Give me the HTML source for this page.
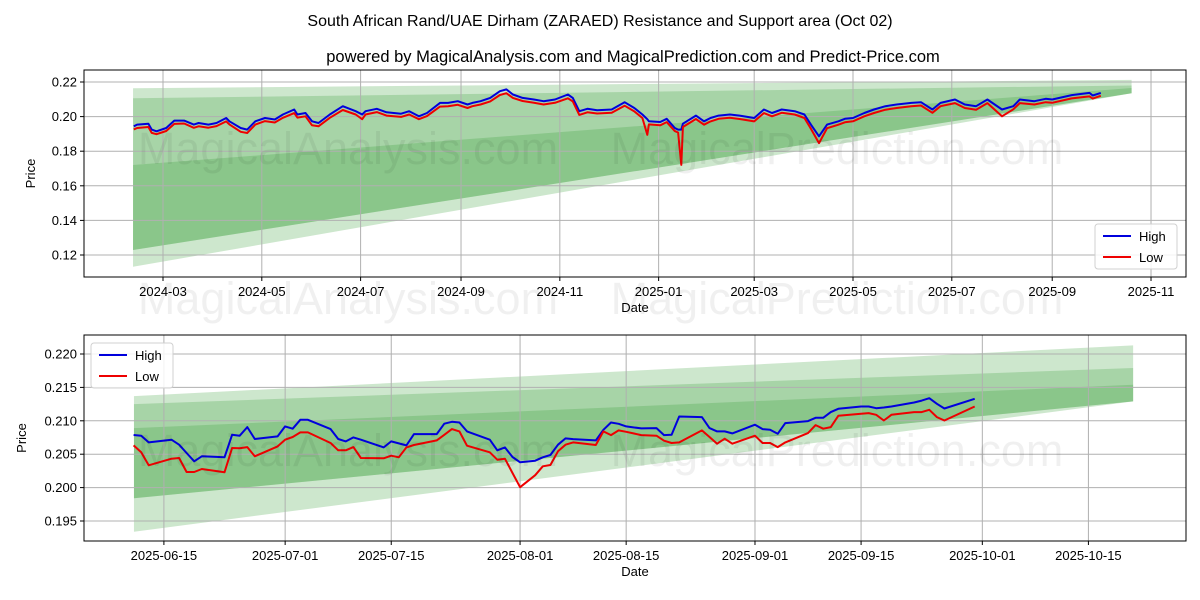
<!DOCTYPE html>
<html><head><meta charset="utf-8"><title>ZARAED Resistance and Support</title>
<style>
html,body{margin:0;padding:0;background:#fff;}
svg{display:block;font-family:"Liberation Sans","DejaVu Sans",sans-serif;}
</style></head>
<body>
<svg id="chart" width="1200" height="600" viewBox="0 0 1200 600" xmlns="http://www.w3.org/2000/svg">
<rect width="1200" height="600" fill="#fff"/>
<text x="600" y="26" text-anchor="middle" font-size="16">South African Rand/UAE Dirham (ZARAED) Resistance and Support area (Oct 02)</text>
<text x="633" y="62" text-anchor="middle" font-size="16.5">powered by MagicalAnalysis.com and MagicalPrediction.com and Predict-Price.com</text>
<g id="top"></g>
<g id="bot"></g>
<g font-size="45" fill="#000" fill-opacity="0.06" text-anchor="middle">
<text x="348" y="164">MagicalAnalysis.com</text>
<text x="837" y="164">MagicalPrediction.com</text>
<text x="348" y="314">MagicalAnalysis.com</text>
<text x="837" y="314">MagicalPrediction.com</text>
<text x="348" y="466">MagicalAnalysis.com</text>
<text x="837" y="466">MagicalPrediction.com</text>
</g>
</svg>
<script>
// ===== Top chart data (day offsets from 2024-03-01) =====
const topDays = [-18,-16,-9,-7,-4,2,7,13,19,22,28,33,39,41,48,52,57,63,69,74,81,83,88,92,96,103,111,119,123,125,132,138,147,152,158,163,171,176,182,188,191,196,202,208,212,216,222,229,235,242,250,253,257,262,268,277,285,291,296,299,300,307,311,316,318,320,321,329,334,338,343,350,356,365,371,376,382,390,396,400,405,410,417,421,426,433,439,446,453,462,468,475,480,489,495,502,509,518,525,529,538,545,549,561,572,574,579];
const topHigh = [.1944,.1954,.1959,.1925,.1915,.1934,.1977,.1977,.1954,.1963,.1954,.1963,.1992,.1973,.1934,.1925,.1973,.1992,.1983,.2012,.2041,.2012,.2021,.1973,.1963,.2012,.2060,.2031,.2012,.2031,.2045,.2025,.2017,.2031,.2002,.2021,.2079,.2079,.2089,.2070,.2079,.2089,.2108,.2147,.2157,.2128,.2108,.2099,.2089,.2099,.2128,.2108,.2031,.2045,.2037,.2041,.2083,.2050,.2012,.1985,.1973,.1969,.1987,.1934,.1925,.1925,.1959,.2006,.1973,.1992,.2006,.2012,.2006,.1992,.2041,.2021,.2041,.2031,.2012,.1954,.1886,.1954,.1973,.1987,.1992,.2021,.2041,.2060,.2070,.2079,.2083,.2041,.2079,.2099,.2070,.2060,.2099,.2041,.2060,.2099,.2089,.2103,.2099,.2124,.2137,.2122,.2137];
const topLow = [.1926,.1934,.1940,.1906,.1898,.1917,.1958,.1960,.1935,.1944,.1936,.1945,.1972,.1955,.1912,.1905,.1954,.1974,.1966,.1993,.2020,.1994,.2002,.1950,.1944,.1993,.2038,.2012,.1985,.2012,.2026,.2006,.1998,.2012,.1985,.2003,.2058,.2060,.2068,.2050,.2060,.2070,.2088,.2125,.2135,.2108,.2090,.2080,.2070,.2080,.2106,.2088,.2010,.2025,.2018,.2022,.2063,.2030,.1992,.1895,.1955,.1950,.1968,.1916,.1908,.1721,.1940,.1986,.1953,.1972,.1987,.1993,.1986,.1972,.2020,.2002,.2022,.2012,.1992,.1930,.1847,.1933,.1953,.1967,.1973,.2002,.2021,.2040,.2050,.2060,.2064,.2022,.2060,.2078,.2050,.2040,.2078,.2002,.2042,.2078,.2070,.2083,.2080,.2105,.2117,.2104,.2120];
const topBandDays = [-18.5, 598];
const topBandTopStart = [0.2164, 0.2106, 0.1720];
const topBandTopEnd = [0.2212, 0.2180, 0.2165];
const topBandBotStart = [0.1132, 0.1229, 0.1229];
const topBandBotEnd = [0.2135, 0.2135, 0.2135];
const topYTicks = [0.12, 0.14, 0.16, 0.18, 0.20, 0.22];
const topYLabels = ["0.12","0.14","0.16","0.18","0.20","0.22"];
const topXTicks = [0, 61, 122, 184, 245, 306, 365, 426, 487, 549, 610];
const topXLabels = ["2024-03","2024-05","2024-07","2024-09","2024-11","2025-01","2025-03","2025-05","2025-07","2025-09","2025-11"];

// ===== Bottom chart data (day offsets from 2025-06-15) =====
const botDays = [-4,-3,-2,1,2,3,4,5,8,9,10,11,12,15,16,17,18,19,22,23,24,25,26,29,30,31,32,33,36,37,38,39,40,43,44,45,46,47,49,50,51,52,53,54,57,58,59,60,61,63,65,66,67,68,71,72,73,74,75,78,79,80,81,82,85,86,87,88,89,92,93,94,95,96,99,100,101,102,103,107];
const botHigh = [.20787,.20777,.20677,.20717,.20642,.20518,.20394,.20468,.20453,.20791,.20777,.20906,.20727,.20767,.20916,.20881,.21015,.21015,.20876,.20727,.20692,.20752,.20717,.20602,.20692,.20662,.20632,.20801,.20801,.20956,.20985,.20975,.20841,.20717,.20558,.20602,.20458,.20379,.20403,.20453,.20488,.20642,.20736,.20726,.20707,.20866,.20975,.20955,.20916,.20886,.20891,.20786,.20791,.21065,.21055,.20891,.20841,.20841,.20811,.20941,.20876,.20866,.20806,.20966,.20995,.21045,.21045,.21130,.21179,.21214,.21214,.21189,.21199,.21214,.21274,.21303,.21339,.21254,.21184,.21329];
const botLow = [.20632,.20528,.20334,.20433,.20443,.20234,.20234,.20279,.20229,.20593,.20588,.20607,.20468,.20617,.20717,.20757,.20826,.20826,.20667,.20558,.20558,.20607,.20443,.20438,.20478,.20453,.20602,.20637,.20707,.20791,.20876,.20841,.20627,.20528,.20418,.20433,.20219,.20006,.20185,.20319,.20339,.20543,.20642,.20677,.20637,.20841,.20786,.20856,.20836,.20786,.20777,.20702,.20667,.20677,.20856,.20757,.20657,.20732,.20657,.20777,.20667,.20667,.20607,.20677,.20816,.20936,.20881,.20906,.21075,.21105,.21115,.21090,.21005,.21090,.21130,.21130,.21164,.21055,.21005,.21214];
const botBandDays = [-3.95, 127.9];
const botBandTopStart = [0.2137, 0.2125, 0.2089];
const botBandTopEnd = [0.2213, 0.2179, 0.2154];
const botBandBotStart = [0.1934, 0.1984, 0.1984];
const botBandBotEnd = [0.2129, 0.2129, 0.2129];
const botYTicks = [0.195, 0.200, 0.205, 0.210, 0.215, 0.220];
const botYLabels = ["0.195","0.200","0.205","0.210","0.215","0.220"];
const botXTicks = [0, 16, 30, 47, 61, 78, 92, 108, 122];
const botXLabels = ["2025-06-15","2025-07-01","2025-07-15","2025-08-01","2025-08-15","2025-09-01","2025-09-15","2025-10-01","2025-10-15"];

const NS = "http://www.w3.org/2000/svg";
function mk(tag, attrs, parent){
  const e = document.createElementNS(NS, tag);
  for (const k in attrs) e.setAttribute(k, attrs[k]);
  parent.appendChild(e);
  return e;
}

function drawPanel(g, cfg){
  const L=84, R=1186, T=cfg.T, B=cfg.B;
  const xs = d => cfg.x0 + d*cfg.kx;
  const ys = v => cfg.y0 + (cfg.v0 - v)*cfg.ky;
  const clip = mk('clipPath', {id: cfg.id+'-clip'}, g);
  mk('rect', {x:L, y:T, width:R-L, height:B-T}, clip);
  const plot = mk('g', {'clip-path':'url(#'+cfg.id+'-clip)'}, g);
  
  
  for (let i=0;i<cfg.bts.length;i++){
    const x1 = xs(cfg.bandDays[0]), x2 = xs(cfg.bandDays[1]);
    const pts = [[x1,ys(cfg.bts[i])],[x2,ys(cfg.bte[i])],[x2,ys(cfg.bbe[i])],[x1,ys(cfg.bbs[i])]];
    const p = mk('polygon', {points: pts.map(q=>q.join(',')).join(' '), fill:'#2e9a2e', 'fill-opacity':'0.24'}, plot);
    
    
  }
  cfg.yt.forEach((v,i)=>{
    const y=ys(v);
    const gl = mk('line',{x1:L,x2:R,y1:y,y2:y,stroke:'#b0b0b0','stroke-width':1}, plot);
    
    
    const tk = mk('line',{x1:L-4,x2:L,y1:y,y2:y,stroke:'#000','stroke-width':1}, g);
    
    
    const t = mk('text',{x:L-7,y:y+4.5,'text-anchor':'end','font-size':13}, g);
    t.textContent = cfg.yl[i];
    
    
  });
  cfg.xt.forEach((d,i)=>{
    const x=xs(d);
    const gl = mk('line',{x1:x,x2:x,y1:T,y2:B,stroke:'#b0b0b0','stroke-width':1}, plot);
    
    
    const tk = mk('line',{x1:x,x2:x,y1:B,y2:B+4,stroke:'#000','stroke-width':1}, g);
    
    
    const t = mk('text',{x:x,y:B+19,'text-anchor':'middle','font-size':13}, g);
    t.textContent = cfg.xl[i];
    
    
  });
  const path = (vals)=> cfg.days.map((d,i)=>(i?'L':'M')+xs(d).toFixed(1)+','+ys(vals[i]).toFixed(1)).join('');
  const hi = mk('path',{d:path(cfg.high),fill:'none',stroke:'#0000dd','stroke-width':2,'stroke-linejoin':'round'}, plot);
  
  
  const lo = mk('path',{d:path(cfg.low),fill:'none',stroke:'#ee0000','stroke-width':2,'stroke-linejoin':'round'}, plot);
  
  
  const fr = mk('rect',{x:L,y:T,width:R-L,height:B-T,fill:'none',stroke:'#000','stroke-width':1}, g);
  
  
  const xt = mk('text',{x:(L+R)/2,y:B+35,'text-anchor':'middle','font-size':13}, g);
  xt.textContent='Date';
  
  
  const yc=(T+B)/2;
  const yt = mk('text',{x:cfg.yTitleX,y:yc,'text-anchor':'middle','font-size':13,transform:'rotate(-90 '+cfg.yTitleX+' '+yc+')'}, g);
  yt.textContent='Price';
  
  
  const lg = mk('g',{}, g);
  
  
  const lx=cfg.lx, ly=cfg.ly;
  mk('rect',{x:lx,y:ly,width:82,height:45,rx:3,fill:'#fff','fill-opacity':0.85,stroke:'#d0d0d0'}, lg);
  const e1 = mk('line',{x1:lx+8,x2:lx+36,y1:ly+12,y2:ly+12,stroke:'#0000dd','stroke-width':2}, lg);
  
  
  const t1 = mk('text',{x:lx+44,y:ly+17,'font-size':13}, lg); t1.textContent='High';
  
  
  const e2 = mk('line',{x1:lx+8,x2:lx+36,y1:ly+33,y2:ly+33,stroke:'#ee0000','stroke-width':2}, lg);
  
  
  const t2 = mk('text',{x:lx+44,y:ly+38,'font-size':13}, lg); t2.textContent='Low';
  
  
}

drawPanel(document.getElementById('top'), {
  id:'top', T:70, B:277, x0:163, kx:1.6197, y0:82, v0:0.22, ky:1730,
  days:topDays, high:topHigh, low:topLow, bandDays:topBandDays,
  bts:topBandTopStart, bte:topBandTopEnd, bbs:topBandBotStart, bbe:topBandBotEnd,
  yt:topYTicks, yl:topYLabels, xt:topXTicks, xl:topXLabels, yTitleX:35, lx:1095, ly:224
});
drawPanel(document.getElementById('bot'), {
  id:'bottom', T:335, B:541, x0:163.9, kx:7.578, y0:354, v0:0.220, ky:6680,
  days:botDays, high:botHigh, low:botLow, bandDays:botBandDays,
  bts:botBandTopStart, bte:botBandTopEnd, bbs:botBandBotStart, bbe:botBandBotEnd,
  yt:botYTicks, yl:botYLabels, xt:botXTicks, xl:botXLabels, yTitleX:26, lx:91, ly:343
});
</script>
</body></html>
